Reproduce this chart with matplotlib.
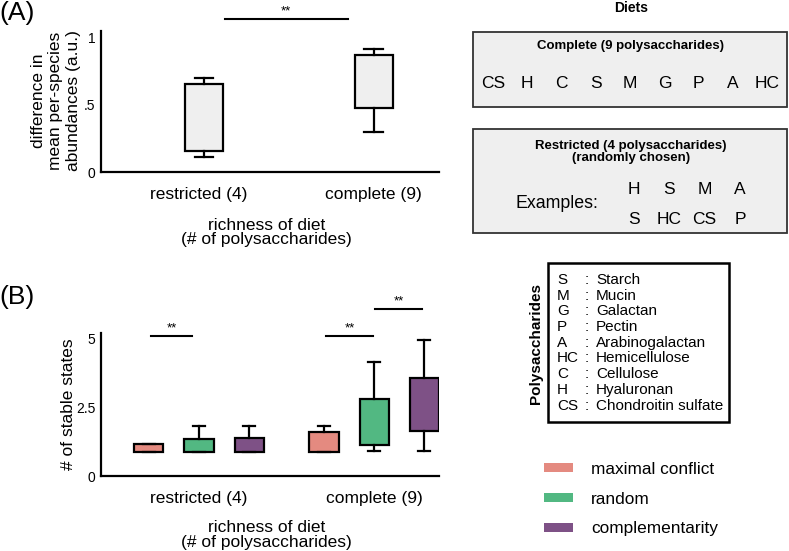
import matplotlib
matplotlib.use("Agg")
import matplotlib.pyplot as plt
from matplotlib.patches import Rectangle, Patch

plt.rcParams['font.family'] = ['Liberation Sans', 'DejaVu Sans']

# ---- data ----
diets = ['restricted (4)', 'complete (9)']

# (A) difference in mean per-species abundances
a_whislo = [0.11, 0.30]
a_q1 = [0.16, 0.48]
a_q3 = [0.66, 0.87]
a_whishi = [0.70, 0.92]

# (B) number of stable states, rows = scenario, cols = diet
scenarios = ['maximal conflict', 'random', 'complementarity']
colors = ['#e48a80', '#52b882', '#7e5186']
b_whislo = [[0.87, 0.87], [0.87, 0.90], [0.87, 0.90]]
b_q1 = [[0.87, 0.87], [0.87, 1.13], [0.87, 1.64]]
b_q3 = [[1.16, 1.60], [1.35, 2.79], [1.38, 3.57]]
b_whishi = [[1.16, 1.83], [1.83, 4.13], [1.83, 4.96]]

complete_diet = ['CS', 'H', 'C', 'S', 'M', 'G', 'P', 'A', 'HC']
example_1 = ['H', 'S', 'M', 'A']
example_2 = ['S', 'HC', 'CS', 'P']
poly_abbr = ['S', 'M', 'G', 'P', 'A', 'HC', 'C', 'H', 'CS']
poly_names = ['Starch', 'Mucin', 'Galactan', 'Pectin', 'Arabinogalactan',
              'Hemicellulose', 'Cellulose', 'Hyaluronan', 'Chondroitin sulfate']

W, H = 789, 551
fig = plt.figure(figsize=(W / 100, H / 100), dpi=100)

# overlay in pixel coordinates for the text panels
ov = fig.add_axes([0, 0, 1, 1])
ov.set_xlim(0, W)
ov.set_ylim(H, 0)
ov.axis('off')


def style_axes(ax, yticks, ylabels):
    for s in ['top', 'right']:
        ax.spines[s].set_visible(False)
    for s in ['left', 'bottom']:
        ax.spines[s].set_linewidth(1.6)
    ax.set_yticks(yticks)
    ax.set_yticklabels(ylabels, fontsize=10)
    ax.tick_params(axis='y', length=0, pad=4)
    ax.set_yticks([yticks[1]], minor=True)
    ax.tick_params(axis='y', which='minor', direction='in', length=9, width=1.6)
    ax.tick_params(axis='x', length=0, pad=11, labelsize=12.5)


# ---- panel A ----
axA = fig.add_axes([101 / W, 1 - 172 / H, 338 / W, 141 / H])
statsA = [dict(med=a_q1[i], q1=a_q1[i], q3=a_q3[i], whislo=a_whislo[i],
               whishi=a_whishi[i], fliers=[]) for i in range(2)]
axA.bxp(statsA, positions=[1.01, 2.0], widths=0.22, capwidths=0.11, patch_artist=True,
        showfliers=False,
        boxprops=dict(facecolor='#efefef', edgecolor='black', linewidth=1.6),
        whiskerprops=dict(linewidth=1.6), capprops=dict(linewidth=1.6),
        medianprops=dict(linewidth=0))
axA.set_xlim(0.41, 2.38)
axA.set_ylim(0, 1.052)
axA.set_xticks([0.98, 2])
axA.set_xticklabels(diets)
style_axes(axA, [0, 0.5, 1], ['0', '.5', '1'])
axA.set_xlabel('richness of diet\n(# of polysaccharides)', fontsize=12.5, linespacing=0.95)
axA.xaxis.set_label_coords(0.49, -0.325)
axA.plot([1.135, 1.847], [1.142, 1.142], color='black', lw=1.5, clip_on=False)
axA.text(1.49, 1.155, '**', ha='center', va='bottom', fontsize=9.5)

# ---- panel B ----
axB = fig.add_axes([101 / W, 1 - 476 / H, 338 / W, 143 / H])
offsets = [-0.286, 0.0, 0.286]
for k in range(3):
    st = [dict(med=b_q1[k][i], q1=b_q1[k][i], q3=b_q3[k][i], whislo=b_whislo[k][i],
               whishi=b_whishi[k][i], fliers=[]) for i in range(2)]
    axB.bxp(st, positions=[1 + offsets[k], 2 + offsets[k]], widths=0.166,
            capwidths=0.065, patch_artist=True, showfliers=False,
            boxprops=dict(facecolor=colors[k], edgecolor='black', linewidth=1.6),
            whiskerprops=dict(linewidth=1.6), capprops=dict(linewidth=1.6),
            medianprops=dict(linewidth=0))
axB.set_xlim(0.44, 2.371)
axB.set_ylim(0, 5.2)
axB.set_xticks([1, 2])
axB.set_xticklabels(diets)
style_axes(axB, [0, 2.5, 5], ['0', '2.5', '5'])
axB.set_ylabel('# of stable states', fontsize=12.5)
axB.yaxis.set_label_coords(-0.075, 0.5)
axB.set_xlabel('richness of diet\n(# of polysaccharides)', fontsize=12.5, linespacing=0.95)
axB.xaxis.set_label_coords(0.49, -0.31)
for x0, x1, y in [(0.726, 0.96, 5.09), (1.726, 1.994, 5.09), (2.006, 2.274, 6.07)]:
    axB.plot([x0, x1], [y, y], color='black', lw=1.5, clip_on=False)
    axB.text((x0 + x1) / 2, y + 0.06, '**', ha='center', va='bottom', fontsize=9.5)

# y label of A
ov.text(56, 101, 'difference in\nmean per-species\nabundances (a.u.)', rotation=90,
        ha='center', va='center', fontsize=12.5, linespacing=1.2)
ov.text(-1, 13, '(A)', fontsize=19, va='center', ha='left')
ov.text(-1, 297, '(B)', fontsize=19, va='center', ha='left')

# ---- Diets ----
ov.text(631, 8, 'Diets', fontsize=10, fontweight='bold', ha='center', va='center')
ov.add_patch(Rectangle((473, 32), 314, 75, facecolor='#efefef', edgecolor='#333333', lw=1.3))
ov.text(631, 46, 'Complete (9 polysaccharides)', fontsize=9.5, fontweight='bold',
        ha='center', va='center')
for i, p in enumerate(complete_diet):
    ov.text(493 + i * 34.3, 84, p, fontsize=12.5, ha='center', va='center')

ov.add_patch(Rectangle((473, 129), 314, 104, facecolor='#efefef', edgecolor='#333333', lw=1.3))
ov.text(631, 152, 'Restricted (4 polysaccharides)\n(randomly chosen)', fontsize=9.5,
        fontweight='bold', ha='center', va='center', linespacing=0.95)
ov.text(557, 204, 'Examples:', fontsize=12.8, ha='center', va='center')
for i, p in enumerate(example_1):
    ov.text(634 + i * 35.3, 190, p, fontsize=12.5, ha='center', va='center')
for i, p in enumerate(example_2):
    ov.text(634 + i * 35.3, 220, p, fontsize=12.5, ha='center', va='center')

# ---- Polysaccharides key ----
ov.add_patch(Rectangle((548, 263), 181, 159, facecolor='white', edgecolor='black', lw=1.8))
ov.text(536, 343, 'Polysaccharides', rotation=90, fontsize=11, fontweight='bold',
        ha='center', va='center')
for i, (ab, nm) in enumerate(zip(poly_abbr, poly_names)):
    y = 280 + i * 15.7
    ov.text(557, y, ab, fontsize=11, ha='left', va='center')
    ov.text(587, y, ':', fontsize=11, ha='center', va='center')
    ov.text(596, y, nm, fontsize=11, ha='left', va='center')

# ---- legend ----
handles = [Patch(facecolor=c, edgecolor='none', label=s) for c, s in zip(colors, scenarios)]
fig.legend(handles=handles, loc='upper left', bbox_to_anchor=(544 / W, 1 - 462 / H),
           frameon=False, fontsize=12.4, handlelength=1.7, handleheight=0.45,
           handletextpad=1.05, labelspacing=0.85, borderpad=0, borderaxespad=0)

fig.savefig('out.png', dpi=100)
